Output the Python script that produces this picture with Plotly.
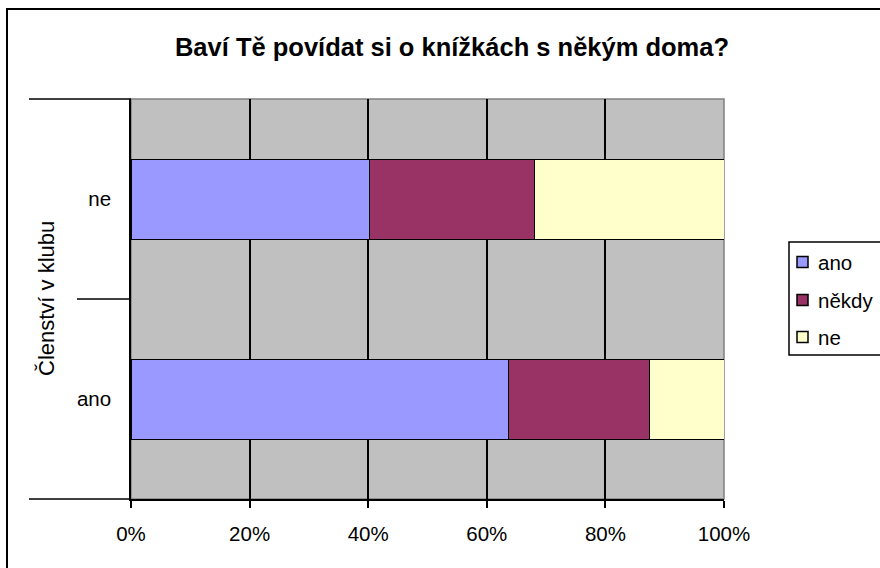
import plotly.graph_objects as go

categories = ["ano", "ne"]
series_names = ["ano", "někdy", "ne"]
values_ano = [63.6, 40.3]
values_nekdy = [23.9, 27.7]
values_ne = [12.5, 32.0]
x_ticks = [0, 20, 40, 60, 80, 100]
x_tick_labels = ["0%", "20%", "40%", "60%", "80%", "100%"]
colors = ["#9999FF", "#993366", "#FFFFCC"]

W, H = 880, 568
L, R, T, B = 131, 724, 99, 499


def px(x):
    return (x - L) / (R - L)


def py(y):
    return (B - y) / (B - T)


fig = go.Figure()
for name, vals, col in zip(series_names, [values_ano, values_nekdy, values_ne], colors):
    fig.add_trace(go.Bar(
        y=categories, x=vals, name=name, orientation="h",
        marker=dict(color=col, line=dict(color="black", width=1)),
        hoverinfo="x+name",
    ))

font = "Liberation Sans, Arial, sans-serif"
FS = 20.5
shapes = [
    dict(type="rect", xref="paper", yref="paper", x0=0, x1=1, y0=0, y1=1,
         line=dict(color="#808080", width=1.5), layer="below"),
    dict(type="line", xref="paper", yref="paper", x0=px(29), x1=0, y0=1, y1=1,
         line=dict(color="black", width=1.5)),
    dict(type="line", xref="paper", yref="paper", x0=px(77), x1=0, y0=0.5, y1=0.5,
         line=dict(color="black", width=1.5)),
    dict(type="line", xref="paper", yref="paper", x0=px(29), x1=0, y0=0, y1=0,
         line=dict(color="black", width=1.5)),
    dict(type="path", xref="paper", yref="paper",
         path=f"M {px(7)} {py(600)} L {px(7)} {py(9)} L {px(900)} {py(9)}",
         line=dict(color="black", width=2)),
    # legend box
    dict(type="rect", xref="paper", yref="paper", x0=px(789), x1=px(900),
         y0=py(242), y1=py(355), line=dict(color="black", width=1.5),
         fillcolor="white"),
]
annotations = [dict(text="Členství v klubu", textangle=-90, x=px(46), y=py(299),
                    xref="paper", yref="paper", xanchor="center", yanchor="middle",
                    showarrow=False, font=dict(size=22, family=font))]

legend_y = [262, 300, 337]
for name, col, yy in zip(series_names, colors, legend_y):
    shapes.append(dict(type="rect", xref="paper", yref="paper",
                       x0=px(797), x1=px(808), y0=py(yy - 5.5), y1=py(yy + 5.5),
                       line=dict(color="black", width=1.5), fillcolor=col))
    annotations.append(dict(text=name, x=px(816), y=py(yy), xref="paper", yref="paper",
                            xanchor="left", yanchor="middle", showarrow=False,
                            font=dict(size=FS, family=font)))

fig.update_layout(
    width=W, height=H,
    margin=dict(l=L, r=W - R, t=T, b=H - B, pad=0),
    paper_bgcolor="white", plot_bgcolor="#C0C0C0",
    barmode="stack", bargap=0.6, showlegend=False,
    font=dict(family=font, size=FS, color="black"),
    title=dict(text="<b>Baví Tě povídat si o knížkách s někým doma?</b>",
               x=px(452), xref="paper", xanchor="center",
               y=1 - 47 / H, yanchor="middle",
               font=dict(size=25.5, family=font, color="black")),
    xaxis=dict(range=[0, 100], tickvals=x_ticks, ticktext=x_tick_labels,
               showgrid=True, gridcolor="black", gridwidth=1.5,
               showline=True, linecolor="black", linewidth=1.5,
               ticks="outside", ticklen=7, tickcolor="black", tickwidth=1.5,
               ticklabelstandoff=9, zeroline=False, fixedrange=True,
               automargin=False),
    yaxis=dict(categoryorder="array", categoryarray=categories,
               showgrid=False, showline=True, linecolor="black", linewidth=1.5,
               ticks="", ticklabelstandoff=14, zeroline=False, fixedrange=True,
               automargin=False),
    shapes=shapes,
    annotations=annotations,
)

fig.write_html("out.html", config={"displayModeBar": False},
               post_script="document.body.style.margin='0';")
